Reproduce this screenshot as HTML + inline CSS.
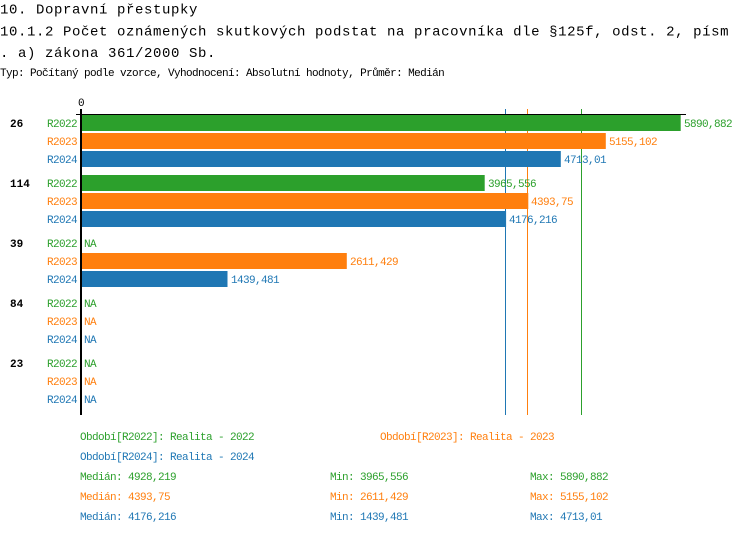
<!DOCTYPE html>
<html><head><meta charset="utf-8"><style>
html,body{margin:0;padding:0;background:#fff;}
svg{display:block;}
text{font-family:"Liberation Mono",monospace;}
.t{font-size:14px;letter-spacing:0.6px;fill:#000;}
.s{font-size:11px;letter-spacing:-0.6px;fill:#000;}
.g{font-size:11px;font-weight:bold;fill:#000;}
.l{font-size:11px;letter-spacing:-0.6px;}
.c1{fill:#2ca02c}.c2{fill:#ff7f0e}.c3{fill:#1f77b4}
</style></head><body>
<svg width="750" height="534" viewBox="0 0 750 534" xmlns="http://www.w3.org/2000/svg">
<text class="t" x="0" y="13.5">10. Dopravní přestupky</text>
<text class="t" x="0" y="35.5">10.1.2 Počet oznámených skutkových podstat na pracovníka dle §125f, odst. 2, písm</text>
<text class="t" x="0" y="57">. a) zákona 361/2000 Sb.</text>
<text class="s" x="0" y="76">Typ: Počítaný podle vzorce, Vyhodnocení: Absolutní hodnoty, Průměr: Medián</text>

<text class="s" x="81" y="106" text-anchor="middle">0</text>

<!-- median lines -->
<rect x="505" y="109" width="1" height="306" fill="#1f77b4"/>
<rect x="527" y="109" width="1" height="306" fill="#ff7f0e"/>
<rect x="581" y="109" width="1" height="306" fill="#2ca02c"/>

<!-- bars group 1 -->
<rect x="81" y="115" width="599.7" height="16" fill="#2ca02c"/>
<rect x="81" y="133" width="524.8" height="16" fill="#ff7f0e"/>
<rect x="81" y="151" width="479.8" height="16" fill="#1f77b4"/>
<!-- group 2 -->
<rect x="81" y="175" width="403.7" height="16" fill="#2ca02c"/>
<rect x="81" y="193" width="447.3" height="16" fill="#ff7f0e"/>
<rect x="81" y="211" width="425.1" height="16" fill="#1f77b4"/>
<!-- group 3 -->
<rect x="81" y="253" width="265.8" height="16" fill="#ff7f0e"/>
<rect x="81" y="271" width="146.5" height="16" fill="#1f77b4"/>

<!-- axis -->
<rect x="76" y="114" width="610" height="1" fill="#000"/>
<rect x="80" y="109" width="2" height="306" fill="#000"/>

<!-- group labels -->
<text class="g" x="10" y="127">26</text>
<text class="g" x="10" y="187">114</text>
<text class="g" x="10" y="247">39</text>
<text class="g" x="10" y="307">84</text>
<text class="g" x="10" y="367">23</text>

<!-- series labels -->
<g class="l" text-anchor="end">
<text class="c1" x="77" y="127">R2022</text><text class="c2" x="77" y="145">R2023</text><text class="c3" x="77" y="163">R2024</text>
<text class="c1" x="77" y="187">R2022</text><text class="c2" x="77" y="205">R2023</text><text class="c3" x="77" y="223">R2024</text>
<text class="c1" x="77" y="247">R2022</text><text class="c2" x="77" y="265">R2023</text><text class="c3" x="77" y="283">R2024</text>
<text class="c1" x="77" y="307">R2022</text><text class="c2" x="77" y="325">R2023</text><text class="c3" x="77" y="343">R2024</text>
<text class="c1" x="77" y="367">R2022</text><text class="c2" x="77" y="385">R2023</text><text class="c3" x="77" y="403">R2024</text>
</g>

<!-- value labels -->
<g class="l">
<text class="c1" x="684" y="127">5890,882</text>
<text class="c2" x="609" y="145">5155,102</text>
<text class="c3" x="564" y="163">4713,01</text>
<text class="c1" x="488" y="187">3965,556</text>
<text class="c2" x="531" y="205">4393,75</text>
<text class="c3" x="509" y="223">4176,216</text>
<text class="c1" x="84" y="247">NA</text>
<text class="c2" x="350" y="265">2611,429</text>
<text class="c3" x="231" y="283">1439,481</text>
<text class="c1" x="84" y="307">NA</text>
<text class="c2" x="84" y="325">NA</text>
<text class="c3" x="84" y="343">NA</text>
<text class="c1" x="84" y="367">NA</text>
<text class="c2" x="84" y="385">NA</text>
<text class="c3" x="84" y="403">NA</text>
</g>

<!-- legend -->
<g class="l">
<text class="c1" x="80" y="440">Období[R2022]: Realita - 2022</text>
<text class="c2" x="380" y="440">Období[R2023]: Realita - 2023</text>
<text class="c3" x="80" y="460">Období[R2024]: Realita - 2024</text>
<text class="c1" x="80" y="480">Medián: 4928,219</text>
<text class="c1" x="330" y="480">Min: 3965,556</text>
<text class="c1" x="530" y="480">Max: 5890,882</text>
<text class="c2" x="80" y="500">Medián: 4393,75</text>
<text class="c2" x="330" y="500">Min: 2611,429</text>
<text class="c2" x="530" y="500">Max: 5155,102</text>
<text class="c3" x="80" y="520">Medián: 4176,216</text>
<text class="c3" x="330" y="520">Min: 1439,481</text>
<text class="c3" x="530" y="520">Max: 4713,01</text>
</g>
</svg>
</body></html>
